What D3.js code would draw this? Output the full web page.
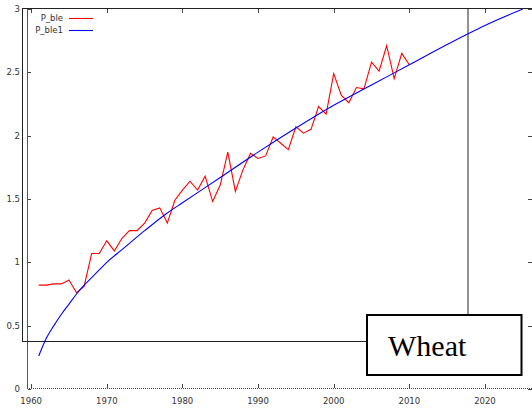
<!DOCTYPE html>
<html><head><meta charset="utf-8">
<script src="https://cdn.jsdelivr.net/npm/d3@7"></script>
<style>body{margin:0;background:#fff}svg{display:block}</style>
</head><body>
<svg id="c" width="532" height="414"></svg>
<script>
// Data
const years = [1961,1962,1963,1964,1965,1966,1967,1968,1969,1970,1971,1972,1973,1974,1975,1976,1977,1978,1979,1980,1981,1982,1983,1984,1985,1986,1987,1988,1989,1990,1991,1992,1993,1994,1995,1996,1997,1998,1999,2000,2001,2002,2003,2004,2005,2006,2007,2008,2009,2010];
const pBle = [0.82,0.82,0.83,0.83,0.86,0.76,0.81,1.07,1.07,1.17,1.09,1.19,1.25,1.25,1.31,1.41,1.43,1.31,1.49,1.57,1.64,1.57,1.68,1.48,1.61,1.87,1.56,1.73,1.86,1.82,1.84,1.99,1.94,1.89,2.07,2.02,2.05,2.23,2.17,2.49,2.32,2.26,2.38,2.37,2.58,2.51,2.71,2.45,2.65,2.56];
const fitYears = [1961,1962,1963,1964,1965,1966,1967,1968,1969,1970,1972,1975,1978,1980,1985,1990,1995,2000,2005,2010,2015,2020,2025];
const pBle1 = [0.26,0.40,0.50,0.59,0.67,0.75,0.82,0.88,0.94,1.00,1.10,1.25,1.39,1.47,1.67,1.87,2.06,2.24,2.40,2.56,2.72,2.87,3.00];
const xTicks = [1960,1970,1980,1990,2000,2010,2020];
const yTicks = [0,0.5,1,1.5,2,2.5,3];
const seriesNames = ["P_ble","P_ble1"];
const label = "Wheat";

const svg = d3.select("#c");
const x = d3.scaleLinear().domain([1959.45, 2026.35]).range([27, 533]);
const y = d3.scaleLinear().domain([0, 3]).range([389, 9]);
const fnt = "'DejaVu Sans', sans-serif";

svg.append("clipPath").attr("id","clip").append("rect")
  .attr("x",27).attr("y",9).attr("width",506).attr("height",380);

// axes lines
svg.append("line").attr("x1",27).attr("x2",533).attr("y1",388.5).attr("y2",388.5)
  .attr("stroke","#444").attr("stroke-dasharray","1,1");
svg.append("line").attr("x1",27.5).attr("x2",27.5).attr("y1",8.5).attr("y2",389)
  .attr("stroke","#555");
svg.append("line").attr("x1",27).attr("x2",533).attr("y1",8.5).attr("y2",8.5)
  .attr("stroke","#222");

// x ticks (bottom & top) and labels
xTicks.forEach(t => {
  const px = Math.round(x(t)) + 0.5;
  svg.append("line").attr("x1",px).attr("x2",px).attr("y1",388).attr("y2",384).attr("stroke","#444");
  svg.append("line").attr("x1",px).attr("x2",px).attr("y1",9).attr("y2",13).attr("stroke","#444");
  svg.append("text").attr("x",x(t)).attr("y",404).attr("text-anchor","middle")
    .attr("font-family",fnt).attr("font-size","8.5px").attr("fill","#333").text(t);
});
// y ticks (left & right) and labels
yTicks.forEach(t => {
  const py = Math.round(y(t)) + 0.5;
  svg.append("line").attr("x1",28).attr("x2",31).attr("y1",py).attr("y2",py).attr("stroke","#444");
  svg.append("line").attr("x1",528).attr("x2",532).attr("y1",py).attr("y2",py).attr("stroke","#444");
  svg.append("text").attr("x",20).attr("y",y(t)).attr("dy","0.35em").attr("text-anchor","end")
    .attr("font-family",fnt).attr("font-size","8.5px").attr("fill","#333").text(t);
});

// inner rectangle frame
svg.append("rect").attr("x",22.5).attr("y",8.5).attr("width",445.5).attr("height",333)
  .attr("fill","none").attr("stroke","#222").attr("stroke-width",1);

const g = svg.append("g").attr("clip-path","url(#clip)");
const line = d3.line().x(d => x(d[0])).y(d => y(d[1]));
g.append("path").datum(years.map((yr,i)=>[yr,pBle[i]]))
  .attr("d",line).attr("fill","none").attr("stroke","#ff0000").attr("stroke-width",1.1);
g.append("path").datum(fitYears.map((yr,i)=>[yr,pBle1[i]]))
  .attr("d",line.curve(d3.curveMonotoneX)).attr("fill","none").attr("stroke","#0000ff").attr("stroke-width",1.1);

// legend
const colors = ["#ff0000","#0000ff"];
seriesNames.forEach((n,i) => {
  const ly = 18 + i*12;
  svg.append("text").attr("x",63).attr("y",ly).attr("dy","0.35em").attr("text-anchor","end")
    .attr("font-family",fnt).attr("font-size","8.5px").attr("fill","#333").text(n);
  svg.append("line").attr("x1",69).attr("x2",93).attr("y1",ly+0.5).attr("y2",ly+0.5)
    .attr("stroke",colors[i]).attr("stroke-width",1.1);
});

// Wheat box
svg.append("rect").attr("x",367).attr("y",315).attr("width",154.5).attr("height",60)
  .attr("fill","#fff").attr("stroke","#000").attr("stroke-width",2);
svg.append("text").attr("x",388).attr("y",356)
  .attr("font-family","'Liberation Serif', 'Times New Roman', serif").attr("font-size","30px")
  .attr("fill","#000").text(label);
</script>
</body></html>
